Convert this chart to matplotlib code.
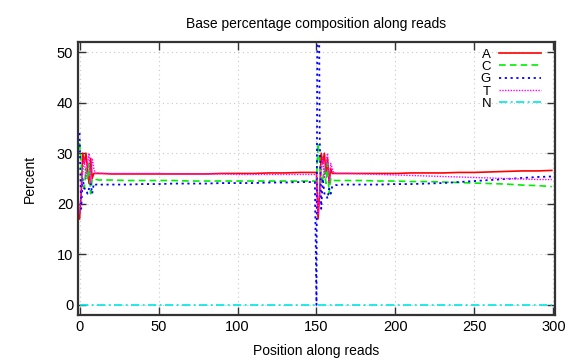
import matplotlib.pyplot as plt

plt.rcParams.update({
    "font.family": ["Liberation Sans", "DejaVu Sans"],
    "font.size": 10,
    "xtick.direction": "in",
    "ytick.direction": "in",
    "xtick.top": True,
    "ytick.right": True,
})

# positions along reads (read 1: 0-149, read 2: 150-299)
pos = ([0, 1, 2, 3, 4, 5, 6, 7, 8, 9, 10, 11, 12, 13, 14,
        20, 30, 40, 50, 60, 70, 80, 90, 100, 110, 120, 130, 140, 149]
       + [150, 151, 152, 153, 154, 155, 156, 157, 158, 159, 160, 161, 162, 163, 164,
          170, 180, 190, 200, 210, 220, 230, 240, 250, 260, 270, 280, 290, 299])

base_a = ([17, 22, 30, 28, 30, 27, 24, 29, 25, 26, 26, 26, 26, 26, 26,
           25.9, 25.9, 25.9, 25.9, 25.9, 25.9, 25.9, 26.0, 26.0, 26.0, 26.1, 26.1, 26.2, 26.2]
          + [26.2, 17, 22, 30, 28, 30, 26, 29, 24, 27, 26, 26, 26, 26, 26,
             26.0, 26.0, 26.0, 26.0, 26.1, 26.1, 26.1, 26.2, 26.2, 26.3, 26.4, 26.5, 26.5, 26.6])
base_c = ([32, 28, 24, 23, 27, 25, 28, 22, 25, 25, 24.8, 24.8, 24.7, 24.7, 24.7,
           24.7, 24.6, 24.6, 24.6, 24.6, 24.5, 24.5, 24.5, 24.5, 24.5, 24.5, 24.5, 24.5, 24.5]
          + [24.5, 32, 28, 24, 25, 27, 24, 28, 22, 25, 24.5, 24.6, 24.6, 24.6, 24.6,
             24.6, 24.6, 24.5, 24.5, 24.4, 24.4, 24.3, 24.2, 24.1, 24.0, 23.9, 23.7, 23.6, 23.4])
base_g = ([34, 19, 25, 23, 23, 22, 23, 24, 22, 24, 23.8, 23.8, 23.7, 23.7, 23.8,
           23.8, 23.8, 23.9, 23.9, 24.0, 24.0, 24.0, 24.1, 24.1, 24.1, 24.2, 24.2, 24.3, 24.3]
          + [0, 100, 34, 19, 25, 22, 22, 21, 23, 22, 23.5, 23.6, 23.7, 23.7, 23.8,
             23.8, 23.8, 23.8, 23.9, 23.9, 24.0, 24.1, 24.3, 24.5, 24.7, 24.9, 25.1, 25.3, 25.4])
base_t = ([18, 22, 26, 29, 25, 28, 30, 24, 29, 27, 26, 26.2, 26, 26, 26,
           26.0, 26.0, 26.0, 26.0, 25.9, 25.9, 25.9, 25.9, 25.8, 25.8, 25.8, 25.8, 25.8, 25.8]
          + [25.8, 18, 22, 26, 29, 25, 28, 30, 24, 28, 27, 26, 26.1, 26, 26,
             26.0, 25.9, 25.8, 25.7, 25.6, 25.5, 25.4, 25.3, 25.2, 25.1, 25.0, 24.9, 24.8, 24.8])
base_n = [0] * len(pos)

fig = plt.figure(figsize=(5.76, 3.6), dpi=100)
ax = fig.add_axes([0.1354, 0.125, 0.8281, 0.7583])

ax.plot(pos, base_a, color="#ff0000", lw=1.2, ls="-", label="A")
ax.plot(pos, base_c, color="#00ee00", lw=1.2, ls=(0, (4, 2.5)), label="C")
ax.plot(pos, base_g, color="#0000ff", lw=1.3, ls=(0, (1.2, 2)), label="G")
ax.plot(pos, base_t, color="#ff00ff", lw=1.0, ls=(0, (1, 1)), label="T")
ax.plot(pos, base_n, color="#00e5e5", lw=1.2, ls=(0, (5, 2, 1.2, 2)), label="N")

ax.set_xlim(-1, 301)
ax.set_ylim(-2, 52)
ax.set_xticks([0, 50, 100, 150, 200, 250, 300])
ax.set_yticks([0, 10, 20, 30, 40, 50])
ax.grid(True, ls=(0, (1, 3)), color="#c8c8c8", lw=0.8)
for s in ax.spines.values():
    s.set_color("#333333")
    s.set_linewidth(1.6)
ax.tick_params(length=6, width=1.0, color="#333333", labelsize=10.5)

ax.set_title("Base percentage composition along reads", fontsize=10, pad=10)
ax.set_xlabel("Position along reads", fontsize=10, labelpad=7)
ax.set_ylabel("Percent", fontsize=10, labelpad=14)

leg = ax.legend(loc="upper right", markerfirst=False, frameon=False, fontsize=9.5,
                handlelength=3.2, handletextpad=0.6, labelspacing=0.0,
                borderaxespad=0.1, borderpad=0.4, bbox_to_anchor=(0.985, 1.0))

plt.savefig("out.png", dpi=100)
